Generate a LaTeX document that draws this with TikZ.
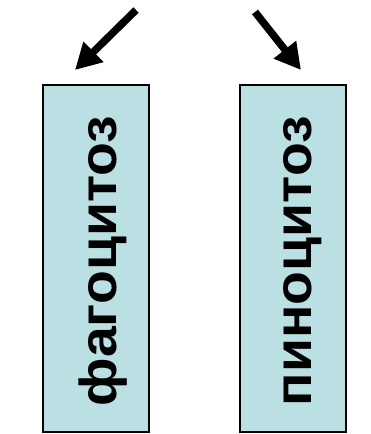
\documentclass[tikz,border=0pt]{standalone}
\usepackage{fontspec}
\setmainfont{Liberation Sans}
\usetikzlibrary{arrows.meta}
\definecolor{boxfill}{RGB}{187,224,227}
\newcommand{\stretchword}[1]{\scalebox{1.065}[1]{#1}}
\begin{document}
\begin{tikzpicture}[x=1pt,y=-1pt,
  procbox/.style={draw=black,line width=1.5pt,fill=boxfill,inner sep=0pt,
    minimum width=106pt,minimum height=347pt},
  proclabel/.style={rotate=90,anchor=base west,
    font=\fontsize{52}{54}\selectfont\bfseries,inner sep=0pt},
  bigarrow/.style={line width=7.5pt,-{Triangle[width=27pt,length=26pt]}}]
\useasboundingbox (0,0) rectangle (370,434);
% the two process boxes
\node[procbox] (fago) at (96,258.5) {};
\node[procbox] (pino) at (293,258.5) {};
\node[proclabel] (fagotext) at (116,406.5) {\stretchword{фагоцитоз}};
\node[proclabel] (pinotext) at (311.5,406.5) {\stretchword{пиноцитоз}};
% arrows pointing down towards the boxes
\coordinate (aStart) at (136,10);
\coordinate (aEnd) at (75,70);
\coordinate (bStart) at (255,12);
\coordinate (bEnd) at (301,70);
\draw[bigarrow] (aStart) -- (aEnd);
\draw[bigarrow] (bStart) -- (bEnd);
\end{tikzpicture}
\end{document}
